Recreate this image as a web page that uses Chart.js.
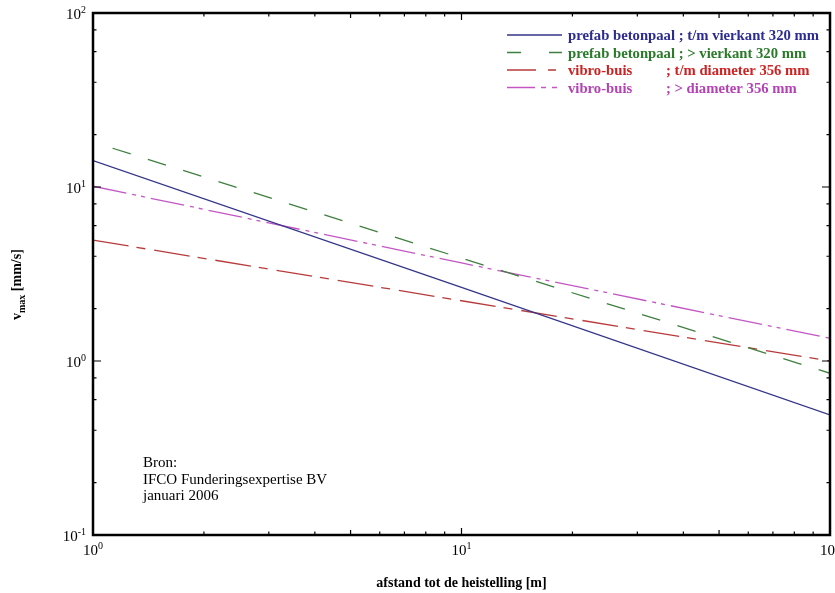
<!DOCTYPE html>
<html>
<head>
<meta charset="utf-8">
<title>vmax afstand heistelling</title>
<script src="https://cdn.jsdelivr.net/npm/chart.js@4.4.1/dist/chart.umd.min.js"></script>
<style>
  html, body { margin: 0; padding: 0; background: #fff; }
  #wrap { width: 835px; height: 593px; }
</style>
</head>
<body>
<div id="wrap"><canvas id="vmaxChart" width="835" height="593"></canvas></div>
<script>
// afstand [m] en v_max [mm/s]
const afstandPrefabKlein = [1, 10, 100];
const vmaxPrefabKlein = [14.2, 2.65, 0.49];

const afstandPrefabGroot = [1.13, 10, 100];
const vmaxPrefabGroot = [16.7, 3.9, 0.85];

const afstandVibroKlein = [1, 10, 100];
const vmaxVibroKlein = [4.95, 2.22, 1.0];

const afstandVibroGroot = [1, 10, 100];
const vmaxVibroGroot = [10.1, 3.66, 1.35];

const reeksNamen = [
    ['prefab betonpaal ; t/m vierkant 320 mm'],
    ['prefab betonpaal ; > vierkant 320 mm'],
    ['vibro-buis', '; t/m diameter 356 mm'],
    ['vibro-buis', '; > diameter 356 mm']
];
const xTickWaarden = [1, 10, 100];
const yTickWaarden = [0.1, 1, 10, 100];
const bronTekst = ['Bron:', 'IFCO Funderingsexpertise BV', 'januari 2006'];

const lijnKleuren = ['#35358a', '#3f7f3f', '#b83a3a', '#c456c4'];
const tekstKleuren = ['#2c2c90', '#2a7a2a', '#cc2222', '#b442b4'];
const lijnStrepen = [[], [19, 18], [36, 8, 9, 9], [34, 6, 4, 5, 4, 6]];
const legendaStrepen = [[], [14, 28], [29, 12, 8, 20], [28, 6, 5, 6, 5, 20]];

function punten(xs, ys) {
    return xs.map((x, i) => ({ x: x, y: ys[i] }));
}

const SERIF = '"Liberation Serif", "Times New Roman", serif';

function machtLabel(ctx, exp, x, y, align) {
    ctx.font = '15px ' + SERIF;
    const w10 = ctx.measureText('10').width;
    ctx.font = '10px ' + SERIF;
    const wE = ctx.measureText(exp).width;
    const totaal = w10 + wE;
    const start = align === 'right' ? x - totaal : x - totaal / 2;
    ctx.textAlign = 'left';
    ctx.font = '15px ' + SERIF;
    ctx.fillText('10', start, y);
    ctx.font = '10px ' + SERIF;
    ctx.fillText(exp, start + w10, y - 6);
}

const kaderPlugin = {
    id: 'kader',
    afterDraw(chart) {
        const ctx = chart.ctx;
        const a = chart.chartArea;
        const xs = chart.scales.x;
        const ys = chart.scales.y;
        ctx.save();
        ctx.fillStyle = '#000';
        ctx.strokeStyle = '#000';

        // ticks naar binnen
        ctx.lineWidth = 1.2;
        ctx.beginPath();
        xTickWaarden.forEach((d, i) => {
            const px = xs.getPixelForValue(d);
            ctx.moveTo(px, a.bottom); ctx.lineTo(px, a.bottom - 7);
            ctx.moveTo(px, a.top); ctx.lineTo(px, a.top + 7);
            if (i < xTickWaarden.length - 1) {
                for (let m = 2; m <= 9; m++) {
                    const p = xs.getPixelForValue(d * m);
                    const len = m === 5 ? 5 : 3.5;
                    ctx.moveTo(p, a.bottom); ctx.lineTo(p, a.bottom - len);
                    ctx.moveTo(p, a.top); ctx.lineTo(p, a.top + len);
                }
            }
        });
        yTickWaarden.forEach((d, i) => {
            const py = ys.getPixelForValue(d);
            ctx.moveTo(a.left, py); ctx.lineTo(a.left + 8, py);
            ctx.moveTo(a.right, py); ctx.lineTo(a.right - 8, py);
            if (i < yTickWaarden.length - 1) {
                [2, 4, 6, 8].forEach(m => {
                    const p = ys.getPixelForValue(d * m);
                    ctx.moveTo(a.left, p); ctx.lineTo(a.left + 3.5, p);
                    ctx.moveTo(a.right, p); ctx.lineTo(a.right - 3.5, p);
                });
            }
        });
        ctx.stroke();

        // kader
        ctx.lineWidth = 2.5;
        ctx.strokeRect(a.left, a.top, a.right - a.left, a.bottom - a.top);

        // tick labels
        ctx.textBaseline = 'alphabetic';
        xTickWaarden.forEach(d => {
            machtLabel(ctx, String(Math.round(Math.log10(d))), xs.getPixelForValue(d), a.bottom + 20, 'center');
        });
        yTickWaarden.forEach(d => {
            machtLabel(ctx, String(Math.round(Math.log10(d))), a.left - 7, ys.getPixelForValue(d) + 6, 'right');
        });

        // legenda
        const lx0 = 507, lx1 = 562, tx = 568;
        reeksNamen.forEach((naam, i) => {
            const cy = 35 + i * 17.5;
            ctx.lineWidth = 1.3;
            ctx.strokeStyle = lijnKleuren[i];
            ctx.setLineDash(legendaStrepen[i]);
            ctx.beginPath();
            ctx.moveTo(lx0, cy); ctx.lineTo(lx1, cy);
            ctx.stroke();
            ctx.setLineDash([]);
            ctx.fillStyle = tekstKleuren[i];
            ctx.font = 'bold 14.7px ' + SERIF;
            ctx.textAlign = 'left';
            ctx.fillText(naam[0], tx, cy + 5);
            if (naam.length > 1) ctx.fillText(naam[1], 666, cy + 5);
        });

        // bron
        ctx.fillStyle = '#000';
        ctx.font = '15px ' + SERIF;
        bronTekst.forEach((t, i) => ctx.fillText(t, 143, 467 + i * 16.5));

        // as titels
        ctx.font = 'bold 14px ' + SERIF;
        ctx.textAlign = 'center';
        ctx.fillText('afstand tot de heistelling [m]', (a.left + a.right) / 2, 587);

        ctx.save();
        ctx.translate(21, 320);
        ctx.rotate(-Math.PI / 2);
        ctx.textAlign = 'left';
        ctx.font = 'bold 14px ' + SERIF;
        ctx.fillText('v', 0, 0);
        let w = ctx.measureText('v').width;
        ctx.font = 'bold 10px ' + SERIF;
        ctx.fillText('max', w, 4);
        w += ctx.measureText('max').width;
        ctx.font = 'bold 14px ' + SERIF;
        ctx.fillText(' [mm/s]', w, 0);
        ctx.restore();

        ctx.restore();
    }
};

function maakDataset(i, xs, ys) {
    return {
        label: reeksNamen[i].join(' '),
        data: punten(xs, ys),
        borderColor: lijnKleuren[i],
        borderWidth: 1.3,
        borderDash: lijnStrepen[i],
        pointRadius: 0,
        fill: false,
        tension: 0
    };
}

const ctx = document.getElementById('vmaxChart').getContext('2d');
new Chart(ctx, {
    type: 'line',
    data: {
        datasets: [
            maakDataset(0, afstandPrefabKlein, vmaxPrefabKlein),
            maakDataset(1, afstandPrefabGroot, vmaxPrefabGroot),
            maakDataset(2, afstandVibroKlein, vmaxVibroKlein),
            maakDataset(3, afstandVibroGroot, vmaxVibroGroot)
        ]
    },
    options: {
        responsive: false,
        animation: false,
        layout: { padding: { left: 93, top: 13, right: 5, bottom: 58 } },
        plugins: {
            legend: { display: false },
            tooltip: { enabled: false }
        },
        scales: {
            x: { type: 'logarithmic', min: 1, max: 100, display: false },
            y: { type: 'logarithmic', min: 0.1, max: 100, display: false }
        }
    },
    plugins: [kaderPlugin]
});
</script>
</body>
</html>
